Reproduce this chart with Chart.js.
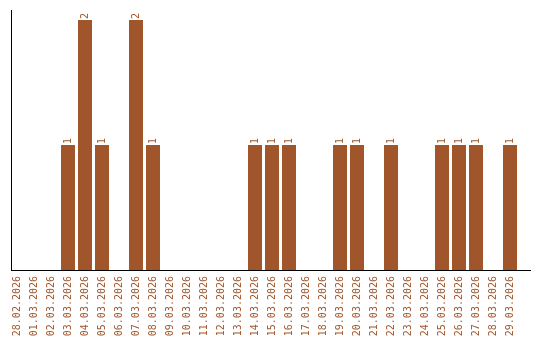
<!DOCTYPE html>
<html>
<head>
<meta charset="utf-8">
<script src="https://cdn.jsdelivr.net/npm/chart.js@4/dist/chart.umd.min.js"></script>
<style>
  html, body { margin: 0; padding: 0; background: #fff; }
  canvas { display: block; }
</style>
</head>
<body>
<canvas id="chart" width="540" height="340"></canvas>
<script>
// dates and counts per day
const dates = [
  '28.02.2026', '01.03.2026', '02.03.2026', '03.03.2026', '04.03.2026',
  '05.03.2026', '06.03.2026', '07.03.2026', '08.03.2026', '09.03.2026',
  '10.03.2026', '11.03.2026', '12.03.2026', '13.03.2026', '14.03.2026',
  '15.03.2026', '16.03.2026', '17.03.2026', '18.03.2026', '19.03.2026',
  '20.03.2026', '21.03.2026', '22.03.2026', '23.03.2026', '24.03.2026',
  '25.03.2026', '26.03.2026', '27.03.2026', '28.03.2026', '29.03.2026'
];
const counts = [0, 0, 0, 1, 2, 1, 0, 2, 1, 0, 0, 0, 0, 0, 1, 1, 1, 0, 0, 1, 1, 0, 1, 0, 0, 1, 1, 1, 0, 1];

const barColor = '#a0562a';
const monoFont = '"DejaVu Sans Mono", "Liberation Mono", monospace';

// numbers above the bars, turned on their side
const valueLabels = {
  id: 'valueLabels',
  afterDatasetsDraw(chart) {
    const ctx = chart.ctx;
    const meta = chart.getDatasetMeta(0);
    ctx.save();
    ctx.font = '10px ' + monoFont;
    ctx.fillStyle = barColor;
    ctx.textAlign = 'left';
    ctx.textBaseline = 'middle';
    meta.data.forEach((bar, i) => {
      if (!counts[i]) return;
      ctx.save();
      ctx.translate(bar.x, bar.y - 1);
      ctx.rotate(-Math.PI / 2);
      ctx.fillText(String(counts[i]), 0, 0);
      ctx.restore();
    });
    ctx.restore();
  }
};

new Chart(document.getElementById('chart'), {
  type: 'bar',
  data: {
    datasets: [{
      data: counts.map((v, i) => ({ x: i, y: v })),
      backgroundColor: barColor,
      borderWidth: 0,
      categoryPercentage: 1,
      barPercentage: 14 / 17
    }]
  },
  options: {
    responsive: false,
    animation: false,
    layout: { padding: { top: 10, right: 10, left: 0, bottom: 0 } },
    plugins: { legend: { display: false }, tooltip: { enabled: false } },
    scales: {
      x: {
        type: 'linear',
        offset: false,
        min: -0.353,
        max: 30.176,
        grid: { display: false, drawTicks: false },
        border: { color: '#000', width: 1 },
        afterBuildTicks: s => { s.ticks = dates.map((d, i) => ({ value: i })); },
        afterFit: s => { s.height = 70; },
        ticks: {
          autoSkip: false,
          minRotation: 90,
          maxRotation: 90,
          padding: 6,
          color: barColor,
          font: { family: monoFont, size: 10 },
          callback: v => dates[v] || ''
        }
      },
      y: {
        min: 0,
        max: 2.08,
        grid: { display: false, drawTicks: false },
        border: { color: '#000', width: 1 },
        ticks: { display: false },
        afterFit: s => { s.width = 11; }
      }
    }
  },
  plugins: [valueLabels]
});
</script>
</body>
</html>
